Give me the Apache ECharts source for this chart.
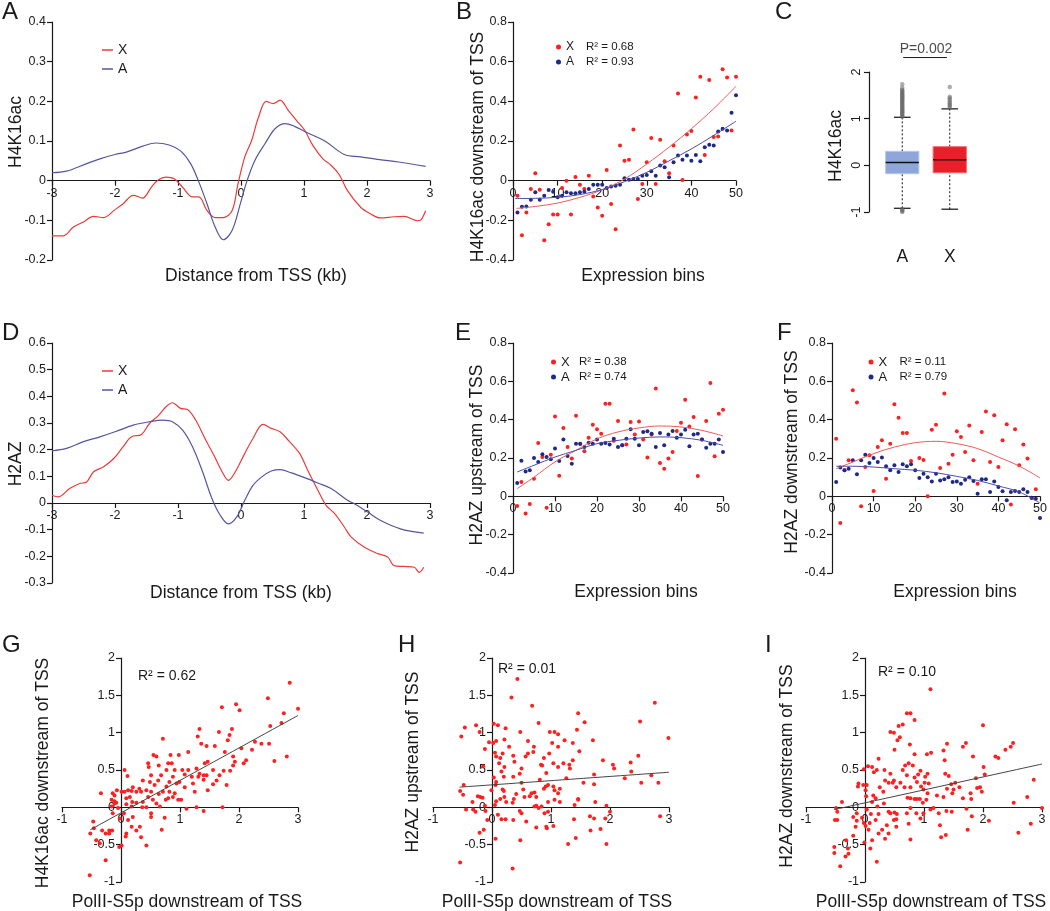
<!DOCTYPE html>
<html>
<head>
<meta charset="utf-8">
<script src="https://cdn.jsdelivr.net/npm/echarts@6/dist/echarts.min.js"></script>
<style>
html, body { margin: 0; padding: 0; background: #fff; }
#chart { width: 1050px; height: 911px; }
</style>
</head>
<body>
<div id="chart"></div>
<script>
// ---- data ----
// A: H4K16ac profile around TSS  [distance kb, value]
var h4acX = [[-3,-0.139],[-2.82,-0.139],[-2.66,-0.117],[-2.5,-0.104],[-2.34,-0.09],[-2.18,-0.093],[-2.0,-0.073],[-1.87,-0.058],[-1.71,-0.037],[-1.56,-0.044],[-1.43,-0.018],[-1.32,0.001],[-1.19,0.009],[-1.06,0.005],[-0.93,-0.016],[-0.77,-0.041],[-0.67,-0.041],[-0.54,-0.075],[-0.41,-0.093],[-0.28,-0.093],[-0.14,-0.075],[-0.05,-0.01],[0.06,0.06],[0.17,0.102],[0.27,0.156],[0.4,0.2],[0.51,0.194],[0.62,0.203],[0.75,0.177],[0.88,0.152],[1.01,0.127],[1.14,0.089],[1.3,0.055],[1.43,0.039],[1.56,0.015],[1.69,-0.025],[1.9,-0.067],[2.06,-0.084],[2.21,-0.094],[2.43,-0.091],[2.59,-0.09],[2.8,-0.101],[2.86,-0.098],[2.93,-0.076]];
var h4acA = [[-3,0.02],[-2.77,0.024],[-2.45,0.043],[-2.24,0.055],[-2.0,0.066],[-1.82,0.072],[-1.56,0.087],[-1.35,0.095],[-1.14,0.09],[-0.96,0.075],[-0.8,0.043],[-0.67,-0.003],[-0.54,-0.058],[-0.41,-0.117],[-0.28,-0.149],[-0.14,-0.125],[-0.01,-0.058],[0.09,-0.003],[0.22,0.051],[0.38,0.093],[0.54,0.131],[0.7,0.144],[0.85,0.137],[1.01,0.124],[1.33,0.1],[1.64,0.066],[1.9,0.06],[2.2,0.053],[2.5,0.047],[2.93,0.036]];

// D: H2AZ profile around TSS
var h2azX = [[-3,0.029],[-2.9,0.023],[-2.72,0.054],[-2.56,0.073],[-2.45,0.079],[-2.34,0.117],[-2.18,0.136],[-2.02,0.167],[-1.87,0.211],[-1.74,0.248],[-1.58,0.257],[-1.45,0.299],[-1.32,0.326],[-1.19,0.361],[-1.09,0.376],[-0.96,0.355],[-0.85,0.351],[-0.72,0.311],[-0.56,0.236],[-0.43,0.179],[-0.3,0.117],[-0.2,0.085],[-0.09,0.117],[0.06,0.186],[0.19,0.242],[0.35,0.295],[0.48,0.28],[0.62,0.267],[0.77,0.23],[0.93,0.186],[1.07,0.117],[1.22,0.048],[1.35,-0.009],[1.48,-0.038],[1.64,-0.09],[1.75,-0.128],[1.96,-0.166],[2.17,-0.19],[2.33,-0.203],[2.43,-0.235],[2.59,-0.238],[2.75,-0.241],[2.83,-0.26],[2.9,-0.241]];
var h2azA = [[-3,0.196],[-2.77,0.205],[-2.5,0.23],[-2.24,0.248],[-2.0,0.267],[-1.71,0.292],[-1.45,0.305],[-1.24,0.311],[-1.09,0.305],[-0.93,0.274],[-0.77,0.211],[-0.61,0.117],[-0.46,0.016],[-0.33,-0.046],[-0.2,-0.078],[-0.07,-0.053],[0.06,0.01],[0.19,0.066],[0.33,0.098],[0.48,0.12],[0.62,0.125],[0.8,0.113],[1.01,0.095],[1.22,0.075],[1.43,0.054],[1.69,0.01],[1.8,-0.003],[2.01,-0.034],[2.21,-0.065],[2.53,-0.097],[2.9,-0.113]];

// B, E, F: expression bins
var bins = [1,2,3,4,5,6,7,8,9,10,11,12,13,14,15,16,17,18,19,20,21,22,23,24,25,26,27,28,29,30,31,32,33,34,35,36,37,38,39,40,41,42,43,44,45,46,47,48,49,50];
var bX = [-0.076,-0.275,-0.16,-0.042,0.037,-0.046,-0.3,-0.22,-0.17,-0.17,-0.037,0.0,-0.17,0.019,-0.02,-0.042,0.025,-0.08,-0.135,-0.177,0.054,-0.118,-0.245,0.177,0.101,0.106,0.258,-0.093,-0.017,0.093,0.215,-0.017,0.206,0.098,0.037,0.177,0.439,0.003,0.233,0.25,0.419,0.524,0.13,0.507,0.22,0.223,0.562,0.52,0.253,0.524];
var bA = [-0.16,-0.132,-0.13,-0.096,-0.059,-0.096,-0.076,-0.047,-0.056,-0.084,-0.076,-0.059,-0.064,-0.064,-0.059,-0.056,-0.042,-0.02,-0.02,-0.02,-0.037,-0.03,-0.025,-0.02,0.012,0.005,0.008,0.008,0.025,0.029,0.047,0.025,0.076,0.068,0.017,0.093,0.127,0.106,0.127,0.101,0.13,0.098,0.169,0.181,0.177,0.248,0.262,0.253,0.343,0.431];
var bFitX = [[0.8,-0.14],[5,-0.13],[10,-0.113],[15,-0.084],[20,-0.046],[25,0.008],[30,0.084],[35,0.169],[40,0.262],[45,0.363],[50,0.476]];
var bFitA = [[0.5,-0.09],[5,-0.089],[10,-0.084],[15,-0.07],[20,-0.045],[25,-0.005],[30,0.042],[35,0.1],[40,0.16],[45,0.228],[50,0.3]];

var eX = [-0.05,0.075,-0.09,-0.04,0.092,0.278,0.205,-0.06,0.217,0.417,0.108,0.357,0.257,0.197,0.421,0.273,0.235,0.306,0.374,0.35,0.327,0.483,0.483,0.29,0.393,0.266,0.27,0.388,0.322,0.391,0.297,0.202,0.323,0.562,0.174,0.144,0.197,0.231,0.341,0.384,0.504,0.365,0.414,0.106,0.297,0.393,0.591,0.209,0.431,0.452];
var eA = [0.07,0.186,0.13,0.136,0.2,0.179,0.219,0.205,0.193,0.249,0.184,0.297,0.21,0.17,0.275,0.275,0.257,0.28,0.275,0.296,0.275,0.278,0.271,0.301,0.257,0.266,0.301,0.35,0.301,0.266,0.336,0.339,0.327,0.257,0.33,0.266,0.323,0.341,0.306,0.323,0.348,0.261,0.322,0.327,0.297,0.254,0.275,0.275,0.297,0.231];
var eFitX = [[1,0.04],[5,0.1],[10,0.18],[15,0.24],[20,0.3],[25,0.336],[30,0.357],[35,0.367],[40,0.362],[45,0.344],[50,0.315]];
var eFitA = [[1,0.127],[5,0.162],[10,0.205],[15,0.24],[20,0.275],[25,0.292],[30,0.304],[35,0.31],[40,0.306],[45,0.292],[50,0.266]];

var fX = [0.30,-0.139,0.136,0.188,0.553,0.489,-0.052,0.153,0.214,0.028,0.257,0.292,0.092,0.275,0.48,0.41,0.33,0.33,0.184,'-',0.2,0.19,0.0,0.348,0.374,0.148,0.536,0.17,0.217,0.339,0.31,0.231,0.37,0.188,0.066,0.336,0.443,0.179,0.423,0.153,0.292,0.376,-0.043,0.35,0.162,0.27,0.197,-0.009,0.037,'-'];
var fA = [0.075,0.15,0.136,0.144,0.188,0.115,0.188,0.217,0.174,0.2,0.179,0.203,0.157,0.136,0.162,0.127,0.167,0.157,0.167,0.136,0.096,0.118,0.1,0.078,0.118,0.083,0.089,0.1,0.075,0.078,0.066,0.087,0.1,0.08,0.014,0.089,0.089,0.023,0.078,0.049,0.026,-0.021,0.023,0.028,0.023,0.037,0.023,-0.007,-0.012,-0.113];
var fFitX = [[1,0.144],[5,0.179],[10,0.223],[15,0.257],[20,0.28],[25,0.287],[30,0.275],[35,0.249],[40,0.205],[45,0.158],[50,0.096]];
var fFitA = [[1,0.157],[5,0.157],[10,0.153],[15,0.144],[20,0.136],[25,0.123],[30,0.104],[35,0.083],[40,0.054],[45,0.023],[50,-0.035]];

// C: boxplot  [group, low whisker, q1, median, q3, high whisker]
var boxStats = [[1,-0.92,-0.18,0.06,0.30,1.03],[2,-0.94,-0.16,0.12,0.40,1.21]];
var boxOutA = [1.04,1.06,1.08,1.1,1.12,1.14,1.16,1.18,1.2,1.22,1.24,1.26,1.28,1.3,1.32,1.34,1.36,1.38,1.4,1.42,1.44,1.46,1.48,1.5,1.52,1.54,1.56,1.58,1.6,1.62,1.66,1.74,2.08,-0.94,-0.96,-0.98,-1.0,-1.02,-1.04,-1.06,-1.08,-1.1,-1.12,-1.15];
var boxOutX = [1.24,1.27,1.3,1.33,1.36,1.4,1.44,1.47,1.68,-1.02,-1.09];

// G, H, I: PolII-S5p vs marks  [x, y]
var gPts = [[2.86,1.67],[3.0,1.32],[2.76,1.26],[2.49,1.46],[2.53,1.09],[2.72,1.13],[1.71,1.34],[1.95,1.38],[2.01,1.30],[1.33,1.05],[1.30,0.95],[1.36,0.85],[1.45,0.82],[1.59,0.82],[1.66,1.01],[1.81,0.90],[1.88,1.05],[1.84,0.97],[1.76,0.74],[1.90,0.68],[1.93,0.61],[2.04,0.79],[2.08,0.59],[2.22,0.77],[2.27,0.88],[2.38,0.85],[2.51,0.85],[2.60,0.62],[2.81,0.68],[1.85,0.49],[1.74,0.49],[1.67,0.43],[1.79,0.30],[1.72,0.0],[1.56,0.31],[1.47,0.23],[1.40,0.37],[1.42,0.59],[1.47,0.61],[1.40,0.43],[1.33,0.45],[1.31,0.41],[1.22,0.32],[1.25,0.21],[1.28,0.0],[1.40,-0.05],[1.14,0.74],[1.14,0.50],[1.08,0.44],[0.99,0.34],[0.97,0.10],[1.11,-0.02],[1.04,0.50],[0.91,0.50],[0.98,0.70],[0.84,0.70],[0.80,0.59],[0.77,0.50],[0.86,0.59],[0.88,0.41],[0.82,0.34],[0.77,0.28],[0.71,0.21],[0.82,0.21],[0.91,0.19],[0.88,0.14],[0.76,0.10],[0.66,0.01],[0.74,-0.14],[0.69,-0.30],[0.60,0.68],[0.71,0.92],[0.55,0.70],[0.68,0.43],[0.63,0.36],[0.57,0.30],[0.51,0.21],[0.49,0.34],[0.47,0.54],[0.46,0.59],[0.37,0.36],[0.43,0.23],[0.46,0.14],[0.51,-0.08],[0.51,-0.13],[0.54,0.10],[0.34,0.21],[0.31,0.25],[0.26,0.21],[0.37,0.07],[0.43,0.0],[0.36,0.0],[0.43,-0.51],[0.34,-0.40],[0.32,-0.26],[0.26,-0.31],[0.20,-0.13],[0.18,-0.26],[0.20,0.27],[0.18,0.22],[0.12,0.23],[0.15,0.14],[0.19,0.07],[0.26,0.06],[0.09,0.12],[0.09,0.04],[0.06,0.21],[0.11,0.42],[0.06,0.50],[0.01,0.21],[0.05,-0.08],[0.12,-0.17],[0.09,-0.35],[0.08,-0.39],[0.01,-0.51],[-0.03,-0.53],[-0.05,-0.01],[-0.02,-0.15],[-0.14,0.19],[-0.11,0.08],[-0.11,0.05],[-0.16,0.01],[-0.14,-0.08],[-0.15,-0.31],[-0.20,-0.31],[-0.20,-0.35],[-0.26,-0.71],[-0.26,-0.35],[-0.34,0.19],[-0.32,-0.31],[-0.36,-0.48],[-0.42,-0.44],[-0.46,-0.28],[-0.47,-0.19],[-0.52,-0.35],[-0.53,-0.91],[-0.16,0.10],[-0.11,0.16],[-0.07,0.23],[-0.08,0.06],[0.18,0.01],[0.60,0.05],[0.64,0.18],[0.80,0.12],[1.02,0.10],[1.08,0.27],[0.94,0.32],[0.64,0.56],[0.51,0.43],[1.45,0.43],[1.56,0.50],[1.62,0.36],[1.28,0.52],[1.20,0.41],[2.12,0.63],[1.90,0.56]];
var hPts = [[0.43,1.72],[0.33,1.47],[0.68,1.36],[0.79,1.13],[2.76,1.40],[2.99,0.93],[2.51,1.15],[2.35,0.60],[2.48,0.69],[2.05,0.57],[2.07,0.52],[2.25,0.39],[2.53,0.33],[2.70,0.43],[2.82,0.33],[2.85,-0.12],[1.46,1.26],[1.57,1.14],[1.44,1.04],[1.37,0.86],[1.23,0.90],[1.48,0.75],[1.37,0.63],[1.31,0.57],[1.32,0.52],[1.71,0.90],[1.73,0.44],[1.73,0.31],[1.55,0.33],[1.88,0.63],[1.46,0.11],[1.46,0.10],[1.40,0.03],[1.75,0.07],[1.94,0.02],[1.39,-0.16],[1.42,-0.41],[1.29,-0.49],[1.66,-0.12],[1.73,-0.15],[1.67,-0.31],[1.84,-0.29],[1.92,-0.15],[1.94,-0.49],[2.00,-0.06],[0.98,1.01],[1.06,1.01],[1.02,0.86],[1.12,0.81],[1.04,0.59],[0.97,0.72],[0.92,0.46],[0.85,0.56],[0.83,0.57],[0.88,0.66],[0.71,0.81],[0.61,0.72],[0.70,0.74],[0.57,0.68],[0.48,1.01],[0.61,0.89],[0.50,0.52],[0.47,0.45],[0.50,0.33],[0.36,0.69],[0.38,0.61],[0.29,0.81],[0.23,1.06],[0.21,0.91],[0.18,0.72],[0.07,0.89],[0.10,1.10],[0.03,1.12],[0.05,0.73],[0.07,0.68],[0.12,0.59],[0.14,0.66],[0.16,0.48],[0.21,0.54],[0.20,0.41],[0.36,0.41],[0.07,0.34],[0.06,0.30],[-0.01,0.23],[0.18,0.24],[0.20,0.22],[0.21,0.14],[0.14,0.11],[0.07,0.08],[0.05,0.03],[0.24,0.07],[0.35,0.06],[0.37,0.11],[0.41,0.18],[0.53,0.24],[0.55,0.14],[0.64,0.15],[0.67,0.19],[0.72,0.20],[0.75,0.14],[0.72,0.01],[0.79,-0.01],[0.84,0.01],[0.88,0.25],[0.91,0.28],[0.95,0.30],[1.04,0.28],[1.06,0.23],[1.12,0.19],[1.15,0.25],[0.95,0.07],[0.95,-0.06],[0.89,-0.08],[0.92,-0.26],[0.93,-0.28],[0.75,-0.27],[0.58,-0.19],[0.47,-0.05],[0.50,-0.08],[0.36,-0.17],[0.23,-0.16],[0.16,-0.16],[0.10,-0.10],[0.35,-0.82],[0.06,-0.42],[-0.08,-0.17],[-0.14,-0.30],[-0.21,-0.34],[-0.11,-0.05],[-0.28,-0.06],[-0.32,-0.03],[-0.44,-0.03],[-0.54,-0.74],[-0.49,0.17],[-0.54,0.22],[-0.46,1.07],[-0.52,0.95],[-0.27,1.10],[-0.21,1.01],[-0.12,0.78],[-0.15,0.55],[-0.20,0.14],[-0.16,0.13],[-0.24,0.15],[-0.12,0.02],[-0.33,0.07],[-0.48,0.30],[-0.05,0.87],[0.02,0.86],[0.03,0.40],[1.12,0.98],[1.12,0.54],[0.81,0.37],[1.21,0.59],[1.26,0.39],[1.06,0.10],[1.15,0.07],[1.04,-0.25],[0.75,0.02],[0.48,-0.44],[2.36,0.48]];
var iPts = [[1.11,1.58],[2.00,1.10],[0.71,1.26],[0.77,1.26],[0.84,1.17],[0.57,1.09],[0.64,1.11],[0.43,1.01],[0.49,1.00],[0.59,0.94],[0.55,0.90],[0.50,0.77],[0.76,0.84],[0.84,0.71],[1.05,0.71],[1.12,0.73],[1.39,0.85],[1.33,0.76],[1.35,0.63],[1.66,0.81],[1.71,0.86],[1.83,0.68],[2.21,0.68],[2.26,0.66],[2.38,0.77],[2.47,0.81],[2.51,0.86],[2.86,0.37],[2.75,0.14],[2.52,0.06],[3.0,-0.01],[2.81,-0.22],[2.60,-0.34],[2.10,-0.18],[1.81,-0.12],[1.74,-0.30],[2.01,0.54],[2.03,0.44],[1.95,0.27],[1.98,0.21],[1.88,0.39],[1.90,0.26],[1.79,0.19],[1.80,0.11],[1.66,0.12],[1.72,-0.02],[1.60,0.27],[1.53,0.33],[1.46,0.31],[1.50,0.24],[1.48,0.19],[1.42,0.42],[1.36,0.45],[1.39,0.25],[1.33,0.14],[1.47,-0.06],[1.38,-0.05],[1.27,-0.24],[1.37,-0.37],[1.29,-0.40],[1.16,-0.01],[1.11,-0.03],[1.04,0.10],[1.06,0.19],[0.99,0.24],[1.01,0.33],[1.08,0.32],[1.02,0.41],[1.06,0.45],[0.94,0.49],[0.90,0.44],[0.88,0.34],[0.95,0.28],[0.93,0.11],[0.98,0.06],[0.88,0.11],[0.84,0.11],[0.77,0.12],[0.72,0.13],[0.77,0.27],[0.84,0.40],[0.81,0.56],[0.74,0.59],[0.68,0.56],[0.64,0.50],[0.71,0.43],[0.67,0.27],[0.60,0.33],[0.53,0.27],[0.49,0.36],[0.43,0.45],[0.40,0.33],[0.34,0.36],[0.33,0.50],[0.31,0.21],[0.25,0.27],[0.20,0.50],[0.23,0.65],[0.15,0.47],[0.12,0.54],[0.05,0.55],[-0.02,0.51],[0.03,0.30],[-0.03,0.30],[0.01,0.23],[0.02,0.15],[0.12,0.07],[0.18,0.12],[0.21,0.01],[0.14,0.16],[0.32,0.05],[0.40,-0.06],[0.43,-0.08],[0.50,-0.07],[0.54,-0.09],[0.49,-0.17],[0.53,-0.26],[0.40,-0.35],[0.34,-0.42],[0.37,-0.24],[0.23,-0.35],[0.20,-0.73],[0.12,-0.44],[0.09,-0.55],[0.06,-0.30],[0.08,-0.21],[0.10,-0.09],[0.03,-0.03],[-0.05,-0.14],[0.01,-0.25],[-0.01,-0.47],[-0.02,-0.21],[0.74,-0.22],[0.77,-0.43],[0.94,-0.15],[0.87,-0.08],[0.77,-0.01],[0.71,-0.08],[-0.14,-0.08],[-0.14,-0.18],[-0.20,-0.13],[-0.16,-0.26],[-0.20,-0.38],[-0.29,-0.55],[-0.32,-0.44],[-0.28,-0.62],[-0.33,-0.66],[-0.42,-0.79],[-0.52,-0.53],[-0.52,-0.61],[-0.47,-0.06],[-0.51,-0.17],[-0.47,-0.17],[-0.39,0.07],[-0.49,-0.01],[-0.11,0.32],[-0.12,0.28],[0.47,0.33],[0.23,-0.09],[0.18,-0.17],[0.29,-0.30],[1.22,0.16],[1.25,-0.08],[0.99,-0.08],[0.53,-0.16]];
var gFit = [[-0.52,-0.30],[3.0,1.23]];
var hFit = [[-0.55,0.27],[3.0,0.47]];
var iFit = [[-0.52,-0.03],[3.0,0.58]];

var r2 = {bX: '0.68', bA: '0.93', eX: '0.38', eA: '0.74', fX: '0.11', fA: '0.79'};

// ---- styling ----
var FONT = '"Liberation Sans", Arial, sans-serif';
var INK = '#1a1a1a';
var RED_LINE = '#ec3b3b', BLUE_LINE = '#55569f';
var RED_DOT = '#ff1f1f', BLUE_DOT = '#1f2a88';
var RED_FIT = '#f05a5a', BLUE_FIT = '#4c4caa';

function pairs(xs, ys) {
    return xs.map(function (x, i) { return [x, ys[i]]; });
}

function valAxis(grid, min, max, step, opts) {
    opts = opts || {};
    return {
        type: 'value', gridIndex: grid, min: min, max: max, interval: step,
        offset: opts.offset || 0,
        axisLine: {show: true, onZero: false, lineStyle: {color: INK, width: 1.2}},
        axisTick: {show: true, length: 5, lineStyle: {color: INK, width: 1.2}},
        axisLabel: {color: INK, fontSize: 12.5, fontFamily: FONT, margin: 6, rotate: opts.rotate || 0},
        splitLine: {show: false}
    };
}

function curve(name, idx, data, color, width) {
    return {
        name: name, type: 'line', xAxisIndex: idx, yAxisIndex: idx, data: data,
        smooth: 0.35, showSymbol: false, symbol: 'none', silent: true,
        lineStyle: {color: color, width: width || 1.2}, itemStyle: {color: color}
    };
}

function dots(name, idx, data, color, size) {
    return {
        name: name, type: 'scatter', xAxisIndex: idx, yAxisIndex: idx, data: data,
        symbolSize: size || 4, silent: true, itemStyle: {color: color, opacity: 1}
    };
}

function renderBox(params, api) {
    var x = api.value(0);
    var lo = api.coord([x, api.value(1)]);
    var q1 = api.coord([x, api.value(2)]);
    var md = api.coord([x, api.value(3)]);
    var q3 = api.coord([x, api.value(4)]);
    var hi = api.coord([x, api.value(5)]);
    var w = api.size([0.7, 0])[0];
    var cap = w * 0.5;
    var fill = params.dataIndex === 0 ? '#8ea6da' : '#e8202a';
    var edge = params.dataIndex === 0 ? '#b8c6ea' : '#f36a6a';
    var dash = {stroke: '#111', lineWidth: 1, lineDash: [2, 2]};
    var solid = {stroke: '#111', lineWidth: 1.2};
    return {
        type: 'group',
        children: [
            {type: 'line', shape: {x1: lo[0], y1: lo[1], x2: q1[0], y2: q1[1]}, style: dash},
            {type: 'line', shape: {x1: q3[0], y1: q3[1], x2: hi[0], y2: hi[1]}, style: dash},
            {type: 'line', shape: {x1: lo[0] - cap / 2, y1: lo[1], x2: lo[0] + cap / 2, y2: lo[1]}, style: solid},
            {type: 'line', shape: {x1: hi[0] - cap / 2, y1: hi[1], x2: hi[0] + cap / 2, y2: hi[1]}, style: solid},
            {type: 'rect', shape: {x: q3[0] - w / 2, y: q3[1], width: w, height: q1[1] - q3[1]},
             style: {fill: fill, stroke: edge, lineWidth: 1}},
            {type: 'line', shape: {x1: md[0] - w / 2, y1: md[1], x2: md[0] + w / 2, y2: md[1]},
             style: {stroke: '#111', lineWidth: 1.5}}
        ]
    };
}

function txt(s, x, y, size, rotated, align) {
    return {
        type: 'text', x: x, y: y, rotation: rotated ? Math.PI / 2 : 0, silent: true,
        style: {
            text: s, fill: INK, fontSize: size, fontFamily: FONT,
            textAlign: align || 'center', textVerticalAlign: align ? 'top' : 'middle'
        }
    };
}

var letters = [['A', 2, 0], ['B', 456, 0], ['C', 775, 0], ['D', 2, 321], ['E', 455, 321], ['F', 777, 321], ['G', 2, 633], ['H', 398, 633], ['I', 765, 633]];
var titles = [
    ['Distance from TSS (kb)', 256, 276, 0], ['H4K16ac', 16, 132, 1],
    ['H4K16ac downstream of TSS', 478, 147, 1], ['Expression bins', 643, 276, 0],
    ['H4K16ac', 836, 146, 1],
    ['H2AZ', 16, 464, 1], ['Distance from TSS (kb)', 241, 593, 0],
    ['H2AZ upstream of TSS', 477, 455, 1], ['Expression bins', 636, 592, 0],
    ['H2AZ downstream of TSS', 792, 452, 1], ['Expression bins', 955, 592, 0],
    ['H4K16ac downstream of TSS', 43, 773, 1], ['PolII-S5p downstream of TSS', 187, 902, 0],
    ['H2AZ upstream of TSS', 413, 762, 1], ['PolII-S5p downstream of TSS', 557, 902, 0],
    ['H2AZ downstream of TSS', 787, 766, 1], ['PolII-S5p downstream of TSS', 931, 902, 0]
];
var graphics = [];
letters.forEach(function (l) { graphics.push(txt(l[0], l[1], l[2], 24, false, 'left')); });
titles.forEach(function (t) { graphics.push(txt(t[0], t[1], t[2], 17.5, t[3] === 1)); });
graphics.push(txt('R² = 0.62', 138, 669, 14, false, 'left'));
graphics.push(txt('R² = 0.01', 498, 662, 14, false, 'left'));
graphics.push(txt('R² = 0.10', 878, 665, 14, false, 'left'));

function lineLegend(names, top) {
    return {
        data: names, orient: 'vertical', left: 97, top: top, icon: 'rect',
        itemWidth: 11, itemHeight: 1.5, itemGap: 3, selectedMode: false,
        formatter: function (n) { return n.slice(1); },
        textStyle: {color: INK, fontSize: 14, fontFamily: FONT, lineHeight: 16}
    };
}
function dotLegend(names, left, top, gap, nameSize) {
    return {
        data: names, orient: 'vertical', left: left, top: top, icon: 'circle',
        itemWidth: 5, itemHeight: 5, itemGap: 2, selectedMode: false,
        formatter: function (n) { return '{n|' + n.slice(1) + '}{r|R² = ' + r2[n] + '}'; },
        textStyle: {
            color: INK, fontFamily: FONT, lineHeight: 13,
            rich: {
                n: {width: gap, fontSize: nameSize, color: INK, fontFamily: FONT},
                r: {fontSize: 11.5, color: INK, fontFamily: FONT}
            }
        }
    };
}

var gridBox = [
    {left: 52, top: 22, width: 378, height: 238},
    {left: 513, top: 22, width: 223, height: 238},
    {left: 869, top: 72, width: 114, height: 140},
    {left: 52, top: 343, width: 378, height: 240},
    {left: 513, top: 343, width: 210, height: 230},
    {left: 832, top: 343, width: 208, height: 230},
    {left: 62, top: 658, width: 236, height: 224},
    {left: 433, top: 658, width: 236, height: 224},
    {left: 806, top: 658, width: 236, height: 224}
];
// value ranges per panel: [xMin, xMax, xStep, yMin, yMax, yStep]
var ranges = [
    [-3, 3, 1, -0.2, 0.4, 0.1],
    [0, 50, 10, -0.4, 0.8, 0.2],
    [0.3, 2.7, 1, -1, 2, 1],
    [-3, 3, 1, -0.3, 0.6, 0.1],
    [0, 50, 10, -0.4, 0.8, 0.2],
    [0, 50, 10, -0.4, 0.8, 0.2],
    [-1, 3, 1, -1, 2, 0.5],
    [-1, 3, 1, -1, 2, 0.5],
    [-1, 3, 1, -1, 2, 0.5]
];

// x axes sit on y = 0; in G-I the y axis sits on x = 0
var xAxes = ranges.map(function (r, i) {
    var shift = i === 2 ? 0 : -gridBox[i].height * (0 - r[3]) / (r[4] - r[3]);
    return valAxis(i, r[0], r[1], r[2], {offset: shift});
});
var yAxes = ranges.map(function (r, i) {
    var shift = i >= 6 ? -gridBox[i].width * (0 - r[0]) / (r[1] - r[0]) : 0;
    return valAxis(i, r[3], r[4], r[5], {offset: shift, rotate: i === 2 ? 90 : 0});
});
xAxes[2].axisLine.show = false;
xAxes[2].axisTick.show = false;
xAxes[2].axisLabel = {
    color: INK, fontSize: 17.5, fontFamily: FONT, margin: 36, customValues: [1, 2],
    formatter: function (v) { return v === 1 ? 'A' : 'X'; }
};

var option = {
    animation: false,
    backgroundColor: '#fff',
    textStyle: {fontFamily: FONT},
    grid: gridBox.map(function (g) { g.containLabel = false; g.outerBoundsMode = 'none'; return g; }),
    xAxis: xAxes,
    yAxis: yAxes,
    legend: [
        lineLegend(['aX', 'aA'], 37),
        lineLegend(['dX', 'dA'], 358),
        dotLegend(['bX', 'bA'], 551, 35.5, 20, 12),
        dotLegend(['eX', 'eA'], 546, 350.5, 18, 13),
        dotLegend(['fX', 'fA'], 863.5, 350.5, 21, 13)
    ],
    graphic: graphics,
    series: [
        // A
        curve('aX', 0, h4acX, RED_LINE), curve('aA', 0, h4acA, BLUE_LINE),
        // B
        dots('bX', 1, pairs(bins, bX), RED_DOT), dots('bA', 1, pairs(bins, bA), BLUE_DOT),
        curve('bXfit', 1, bFitX, RED_FIT, 1), curve('bAfit', 1, bFitA, BLUE_FIT, 1),
        // C
        {
            type: 'custom', xAxisIndex: 2, yAxisIndex: 2, data: boxStats, silent: true,
            renderItem: renderBox, encode: {x: 0, y: [1, 2, 3, 4, 5]}
        },
        dots('cOutA', 2, boxOutA.map(function (v) { return [1, v]; }), 'rgba(105,105,105,0.55)', 4.5),
        dots('cOutX', 2, boxOutX.map(function (v) { return [2, v]; }), 'rgba(105,105,105,0.55)', 4.5),
        {
            type: 'line', xAxisIndex: 2, yAxisIndex: 2, data: [[1.02, 2.31], [1.94, 2.31]],
            symbol: 'none', silent: true, clip: false, lineStyle: {color: INK, width: 1}
        },
        {
            type: 'scatter', xAxisIndex: 2, yAxisIndex: 2, data: [[1.5, 2.5]], symbolSize: 0,
            silent: true, clip: false,
            label: {show: true, position: 'inside', formatter: 'P=0.002', color: INK, fontSize: 14, fontFamily: FONT}
        },
        // D
        curve('dX', 3, h2azX, RED_LINE), curve('dA', 3, h2azA, BLUE_LINE),
        // E
        dots('eX', 4, pairs(bins, eX), RED_DOT), dots('eA', 4, pairs(bins, eA), BLUE_DOT),
        curve('eXfit', 4, eFitX, RED_FIT, 1), curve('eAfit', 4, eFitA, BLUE_FIT, 1),
        // F
        dots('fX', 5, pairs(bins, fX), RED_DOT), dots('fA', 5, pairs(bins, fA), BLUE_DOT),
        curve('fXfit', 5, fFitX, RED_FIT, 1), curve('fAfit', 5, fFitA, BLUE_FIT, 1),
        // G, H, I
        dots('g', 6, gPts, RED_DOT), curve('gFit', 6, gFit, '#444', 1),
        dots('h', 7, hPts, RED_DOT), curve('hFit', 7, hFit, '#444', 1),
        dots('i', 8, iPts, RED_DOT), curve('iFit', 8, iFit, '#444', 1)
    ]
};

var myChart = echarts.init(document.getElementById('chart'));
myChart.setOption(option);
</script>
</body>
</html>
